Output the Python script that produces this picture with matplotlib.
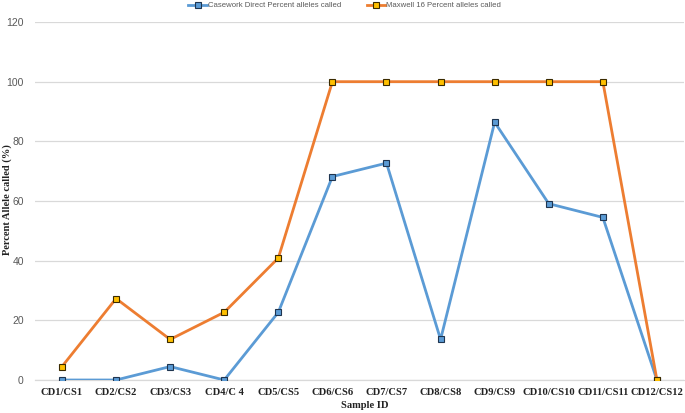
import matplotlib
matplotlib.use("Agg")
import matplotlib.pyplot as plt

categories = ["CD1/CS1", "CD2/CS2", "CD3/CS3", "CD4/C 4", "CD5/CS5", "CD6/CS6",
              "CD7/CS7", "CD8/CS8", "CD9/CS9", "CD10/CS10", "CD11/CS11", "CD12/CS12"]
casework = [0, 0, 4.5, 0, 22.7, 68.2, 72.7, 13.6, 86.4, 59.1, 54.5, 0]
maxwell = [4.5, 27.3, 13.6, 22.7, 40.9, 100, 100, 100, 100, 100, 100, 0]
yticks = [0, 20, 40, 60, 80, 100, 120]

fig = plt.figure(figsize=(6.85, 4.13), dpi=100)
ax = fig.add_axes([0.051, 0.0799, 0.9475, 0.8668])

x = list(range(len(categories)))
ax.plot(x, casework, color="#5B9BD5", lw=2.0, marker="s", ms=5,
        mfc="#5B9BD5", mec="#1F3550", mew=0.8, zorder=3,
        label="Casework Direct Percent alleles called")
ax.plot(x, maxwell, color="#ED7D31", lw=2.0, marker="s", ms=5,
        mfc="#FFC000", mec="#3A2A00", mew=0.8, zorder=3,
        label="Maxwell 16 Percent alleles called")

ax.set_xlim(-0.5, len(categories) - 0.5)
ax.set_ylim(0, 120)
ax.set_yticks(yticks)
ax.set_yticklabels([str(v) for v in yticks], fontsize=7.5, color="#595959",
                   family="Liberation Sans")
ax.set_xticks(x)
ax.set_xticklabels(categories, fontsize=7.6, fontweight="bold",
                   family="Liberation Serif", color="#222222")
ax.tick_params(axis="both", length=0, pad=6)
ax.tick_params(axis="y", pad=8)
ax.grid(axis="y", color="#D9D9D9", lw=0.9)
ax.set_axisbelow(True)
for s in ["top", "right", "left"]:
    ax.spines[s].set_visible(False)
ax.spines["bottom"].set_color("#D9D9D9")
ax.spines["bottom"].set_linewidth(0.9)

fig.text(365 / 685, 1 - 406 / 413, "Sample ID", fontsize=7.6, fontweight="bold",
         family="Liberation Serif", ha="center", va="center", color="#222222")
fig.text(7 / 685, 1 - 200 / 413, "Percent Allele called (%)", fontsize=7.6,
         fontweight="bold", family="Liberation Serif", rotation=90,
         ha="center", va="center", color="#222222")

leg = fig.legend(loc="upper center", bbox_to_anchor=(0.503, 1.012), ncol=2,
                 frameon=False, handlelength=2.4,
                 columnspacing=3.3, handletextpad=0.1,
                 prop={"family": "Liberation Sans", "size": 5.6})
for t in leg.get_texts():
    t.set_color("#595959")

fig.savefig("out.png", dpi=100)
